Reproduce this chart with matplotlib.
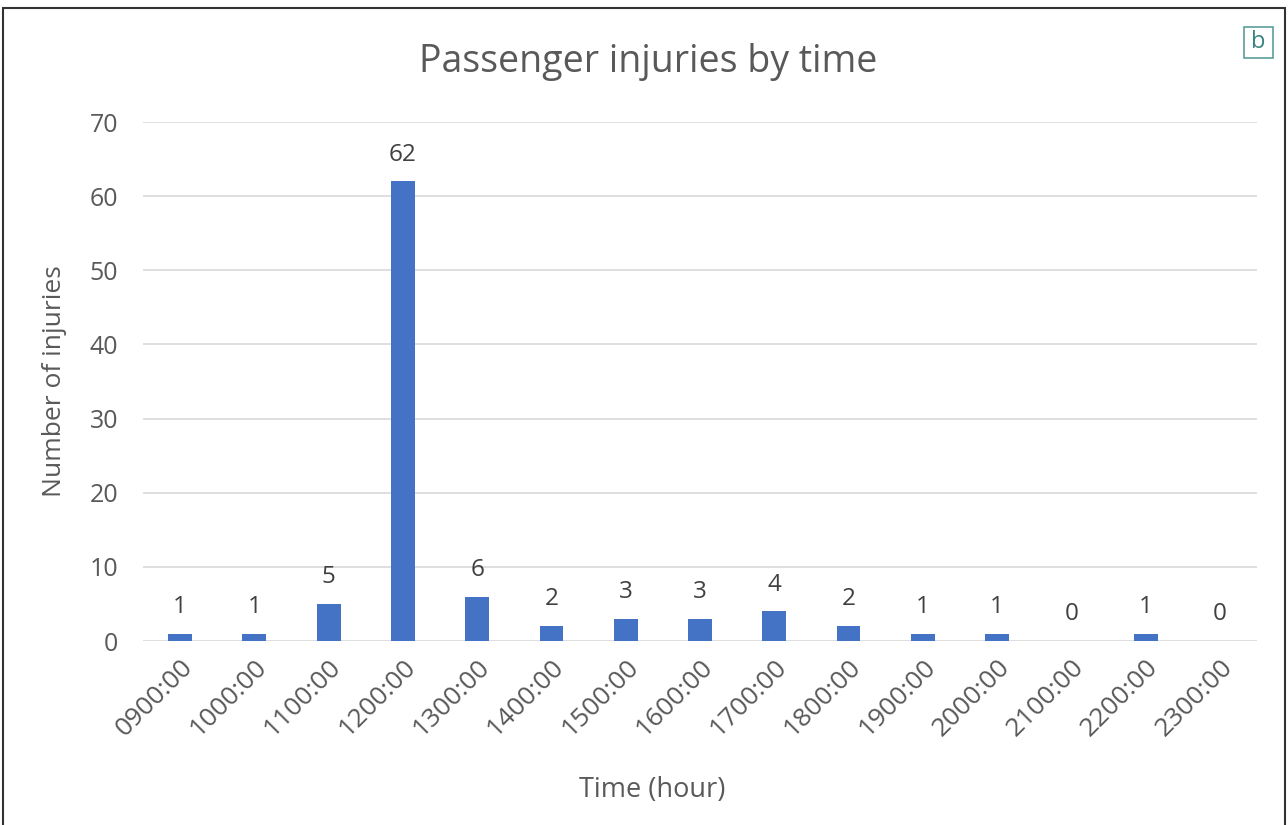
import matplotlib
matplotlib.use("Agg")
import matplotlib.pyplot as plt
from matplotlib.patches import Rectangle

hours = ["0900:00", "1000:00", "1100:00", "1200:00", "1300:00", "1400:00",
         "1500:00", "1600:00", "1700:00", "1800:00", "1900:00", "2000:00",
         "2100:00", "2200:00", "2300:00"]
injuries = [1, 1, 5, 62, 6, 2, 3, 3, 4, 2, 1, 1, 0, 1, 0]
yticks = [0, 10, 20, 30, 40, 50, 60, 70]

plt.rcParams['font.family'] = ['Open Sans', 'DejaVu Sans']
text_color = '#595959'

fig = plt.figure(figsize=(12.88, 8.25), dpi=100)
ax = fig.add_axes([0.111, 0.223, 0.865, 0.629])

x = range(len(hours))
ax.bar(x, injuries, width=0.32, color='#4472C4', zorder=3)
for xi, v in zip(x, injuries):
    ax.text(xi, v + 2.0, str(v), ha='center', va='bottom', fontsize=17.5, color='#404040')

ax.set_xlim(-0.5, len(hours) - 0.5)
ax.set_ylim(0, 70)
ax.set_yticks(yticks)
ax.set_xticks(list(x))
ax.set_xticklabels(hours, rotation=45, ha='right', rotation_mode='anchor')
ax.tick_params(axis='both', length=0, labelsize=18, colors=text_color)
ax.tick_params(axis='x', pad=10, labelsize=19)
ax.tick_params(axis='y', pad=18)
ax.grid(axis='y', color='#d9d9d9', linewidth=1.2, zorder=0)
for s in ax.spines.values():
    s.set_visible(False)

ax.set_ylabel("Number of injuries", fontsize=19, color=text_color, labelpad=16)
fig.text(0.506, 1 - 790 / 825, "Time (hour)", ha='center', va='center', fontsize=19.5, color=text_color)
fig.text(0.503, 1 - 62 / 825, "Passenger injuries by time", ha='center', va='center',
         fontsize=27, color=text_color)

# outer frame and panel letter
fig.patches.append(Rectangle((3 / 1288, -0.01), 1282 / 1288, 1 - 8 / 825 + 0.01,
                             transform=fig.transFigure, fill=False, edgecolor='#333333', linewidth=1.5))
fig.patches.append(Rectangle((1244 / 1288, 1 - 58 / 825), 29 / 1288, 31 / 825,
                             transform=fig.transFigure, fill=False, edgecolor='#5a9e9a', linewidth=1.2))
fig.text(1258.5 / 1288, 1 - 42.5 / 825, "b", ha='center', va='center', fontsize=17, color='#3c8480')

fig.savefig("out.png", dpi=100)
